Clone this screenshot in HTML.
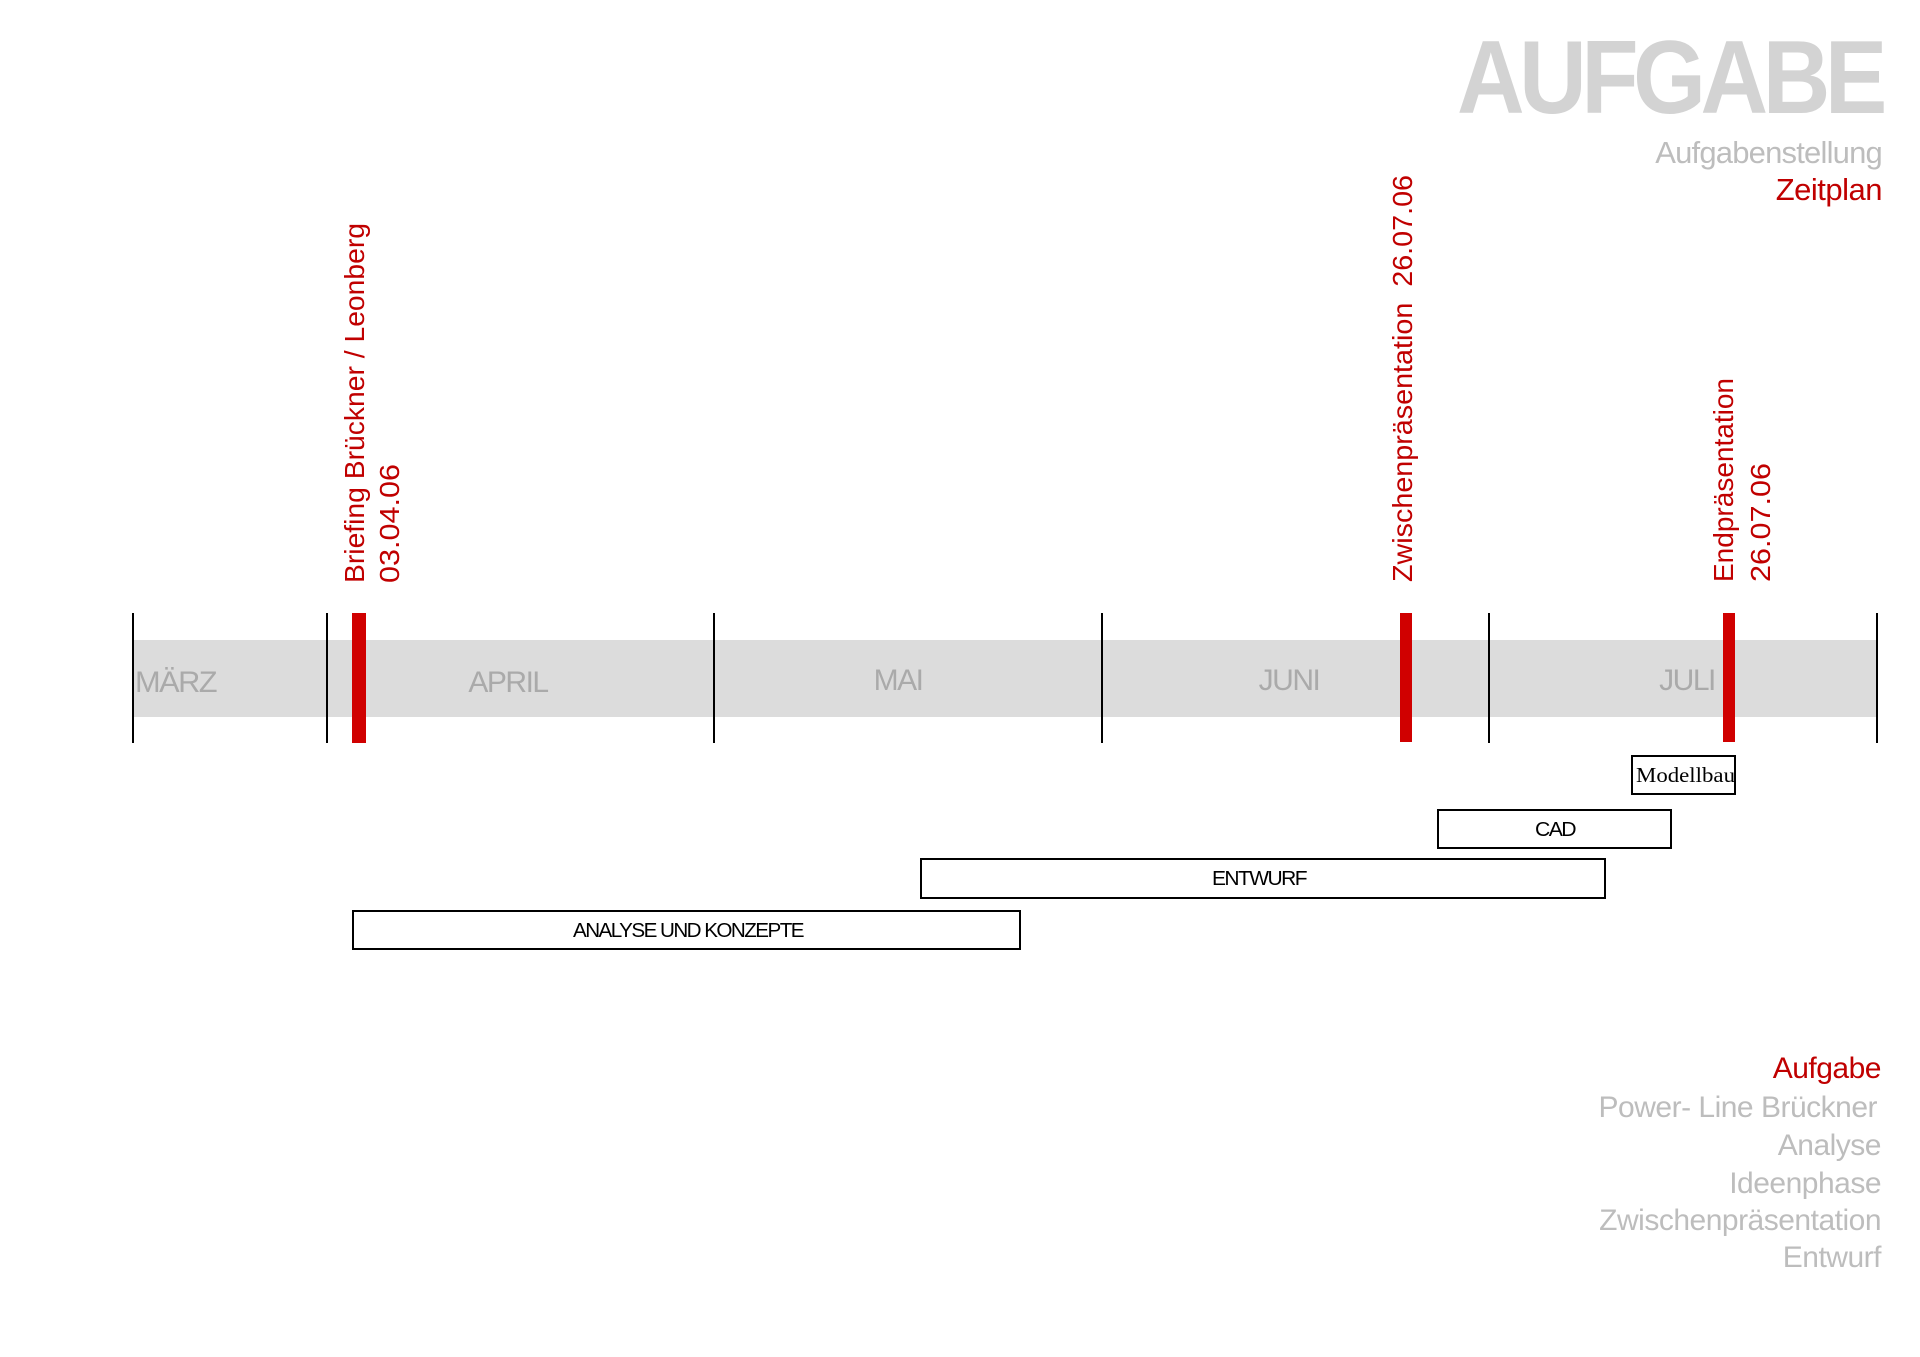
<!DOCTYPE html>
<html><head><meta charset="utf-8"><style>
html,body{margin:0;padding:0;background:#fff;}
svg{display:block;}
</style></head><body>
<svg width="1920" height="1357" viewBox="0 0 1920 1357" xmlns="http://www.w3.org/2000/svg" font-family="Liberation Sans, Arial, sans-serif">
<text transform="translate(1457,113) scale(0.9,1)" font-size="104" font-weight="bold" fill="#d3d3d3" letter-spacing="-6">AUFGABE</text>
<text x="1882" y="163" text-anchor="end" font-size="31" fill="#bdbdbd" letter-spacing="-0.8">Aufgabenstellung</text>
<text x="1882" y="200" text-anchor="end" font-size="31" fill="#c00000" letter-spacing="-0.5">Zeitplan</text>

<rect x="133" y="640" width="1744" height="77" fill="#dcdcdc"/>
<g fill="#aaaaaa" font-size="30" letter-spacing="-1.5">
<text x="135" y="692" textLength="81" lengthAdjust="spacingAndGlyphs">MÄRZ</text>
<text x="508" y="692" text-anchor="middle">APRIL</text>
<text x="898" y="690" text-anchor="middle">MAI</text>
<text x="1289" y="690" text-anchor="middle">JUNI</text>
<text x="1687" y="690" text-anchor="middle">JULI</text>
</g>
<g stroke="#000" stroke-width="2">
<line x1="133" y1="613" x2="133" y2="743"/>
<line x1="327" y1="613" x2="327" y2="743"/>
<line x1="714" y1="613" x2="714" y2="743"/>
<line x1="1102" y1="613" x2="1102" y2="743"/>
<line x1="1489" y1="613" x2="1489" y2="743"/>
<line x1="1877" y1="613" x2="1877" y2="743"/>
</g>
<g fill="#d00000">
<rect x="352" y="613" width="14" height="130"/>
<rect x="1400" y="613" width="12" height="129"/>
<rect x="1723" y="613" width="12" height="129"/>
</g>

<g fill="#c00000" font-size="28">
<text transform="translate(364,583) rotate(-90)" textLength="360" lengthAdjust="spacingAndGlyphs">Briefing Brückner / Leonberg</text>
<text transform="translate(399,583) rotate(-90)" textLength="119" lengthAdjust="spacingAndGlyphs">03.04.06</text>
<text transform="translate(1412,582) rotate(-90)" textLength="407" lengthAdjust="spacingAndGlyphs" xml:space="preserve">Zwischenpräsentation  26.07.06</text>
<text transform="translate(1733,582) rotate(-90)" textLength="204" lengthAdjust="spacingAndGlyphs">Endpräsentation</text>
<text transform="translate(1770,582) rotate(-90)" textLength="119" lengthAdjust="spacingAndGlyphs">26.07.06</text>
</g>

<g fill="#fff" stroke="#000" stroke-width="2">
<rect x="1632" y="756" width="103" height="38"/>
<rect x="1438" y="810" width="233" height="38"/>
<rect x="921" y="859" width="684" height="39"/>
<rect x="353" y="911" width="667" height="38"/>
</g>
<text x="1636" y="782" font-family="Liberation Serif, serif" font-size="21" fill="#000" textLength="99" lengthAdjust="spacingAndGlyphs">Modellbau</text>
<g font-size="20" fill="#000" letter-spacing="-1.5">
<text x="1535" y="836" textLength="40" lengthAdjust="spacingAndGlyphs">CAD</text>
<text x="1212" y="885" textLength="94" lengthAdjust="spacingAndGlyphs">ENTWURF</text>
<text x="573" y="937" textLength="230" lengthAdjust="spacingAndGlyphs">ANALYSE UND KONZEPTE</text>
</g>

<g font-size="30" text-anchor="end" fill="#bdbdbd">
<text x="1881" y="1078" fill="#c00000" letter-spacing="-0.5">Aufgabe</text>
<text x="1877" y="1117" letter-spacing="-0.5">Power- Line Brückner</text>
<text x="1881" y="1155" letter-spacing="-0.5">Analyse</text>
<text x="1881" y="1193" letter-spacing="-0.5">Ideenphase</text>
<text x="1881" y="1230" letter-spacing="-0.5">Zwischenpräsentation</text>
<text x="1881" y="1267" letter-spacing="-0.5">Entwurf</text>
</g>
</svg>
</body></html>
